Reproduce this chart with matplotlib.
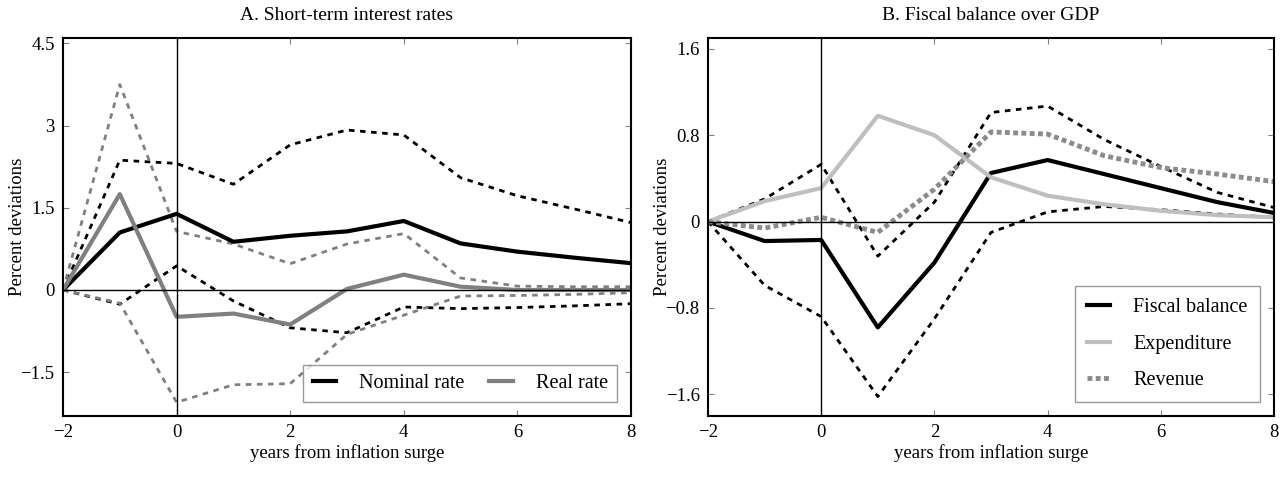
import numpy as np
import matplotlib
matplotlib.use("Agg")
import matplotlib.pyplot as plt

plt.rcParams["font.family"] = ["Liberation Serif", "DejaVu Serif"]
plt.rcParams["font.size"] = 13.5

years = [-2, -1, 0, 1, 2, 3, 4, 5, 6, 7, 8]

# Panel A: short-term interest rates
nominal = [0, 1.05, 1.39, 0.88, 0.99, 1.07, 1.26, 0.85, 0.70, 0.59, 0.49]
nominal_hi = [0, 2.37, 2.31, 1.93, 2.65, 2.92, 2.83, 2.05, 1.72, 1.48, 1.23]
nominal_lo = [0, -0.26, 0.44, -0.20, -0.69, -0.78, -0.31, -0.34, -0.32, -0.29, -0.25]
real = [0, 1.75, -0.49, -0.43, -0.63, 0.02, 0.28, 0.06, 0.0, 0.0, 0.0]
real_hi = [0, 3.75, 1.07, 0.84, 0.48, 0.84, 1.03, 0.22, 0.07, 0.06, 0.06]
real_lo = [0, -0.24, -2.05, -1.73, -1.71, -0.81, -0.46, -0.11, -0.10, -0.08, -0.05]

# Panel B: fiscal balance over GDP
balance = [0, -0.18, -0.17, -0.98, -0.38, 0.45, 0.57, 0.44, 0.31, 0.18, 0.08]
balance_hi = [0, 0.21, 0.53, -0.32, 0.18, 1.01, 1.07, 0.76, 0.51, 0.27, 0.13]
balance_lo = [0, -0.59, -0.88, -1.62, -0.90, -0.10, 0.09, 0.14, 0.11, 0.07, 0.04]
expenditure = [0, 0.19, 0.31, 0.98, 0.80, 0.41, 0.24, 0.16, 0.10, 0.06, 0.04]
revenue = [0, -0.06, 0.04, -0.10, 0.30, 0.83, 0.81, 0.61, 0.50, 0.44, 0.37]

GREY = "#808080"
LIGHT = "#bfbfbf"
REV = "#8c8c8c"

fig = plt.figure(figsize=(12.86, 4.87), dpi=100)
W, H = 1286, 487
axA = fig.add_axes([63 / W, 1 - 416 / H, (631 - 63) / W, (416 - 38) / H])
axB = fig.add_axes([708 / W, 1 - 416 / H, (1274 - 708) / W, (416 - 38) / H])


def style(ax):
    ax.axhline(0, color="black", lw=1)
    ax.axvline(0, color="black", lw=1)
    ax.tick_params(direction="in", top=True, right=True, length=4,
                   color=GREY, labelsize=13.5, pad=6)
    for s in ax.spines.values():
        s.set_linewidth(1.5)
    ax.set_xlim(-2, 8)
    ax.set_xticks([-2, 0, 2, 4, 6, 8])
    ax.set_xlabel("years from inflation surge", labelpad=2)
    ax.set_ylabel("Percent deviations")
    ax.yaxis.set_label_coords(-0.065, 0.5)


# Panel A
axA.plot(years, nominal_hi, color="black", ls=(0, (2, 2)), lw=2)
axA.plot(years, nominal_lo, color="black", ls=(0, (2, 2)), lw=2)
axA.plot(years, real_hi, color=GREY, ls=(0, (2, 2)), lw=2)
axA.plot(years, real_lo, color=GREY, ls=(0, (2, 2)), lw=2)
axA.plot(years, nominal, color="black", lw=3, label="Nominal rate")
axA.plot(years, real, color=GREY, lw=3, label="Real rate")
style(axA)
axA.set_ylim(-2.3, 4.6)
axA.set_yticks([-1.5, 0, 1.5, 3, 4.5])
axA.set_yticklabels(["\u22121.5", "0", "1.5", "3", "4.5"])
axA.set_title("A. Short-term interest rates", fontsize=14, pad=13)
legA = axA.legend(loc="lower right", ncol=2, fancybox=False, handlelength=1.15,
                  handletextpad=1.15, columnspacing=1.25, borderpad=0.45,
                  borderaxespad=0.7, fontsize=14.5)
legA.get_frame().set_edgecolor(GREY)
legA.get_frame().set_linewidth(1)

# Panel B
axB.plot(years, balance_hi, color="black", ls=(0, (2, 2)), lw=2)
axB.plot(years, balance_lo, color="black", ls=(0, (2, 2)), lw=2)
axB.plot(years, balance, color="black", lw=3, label="Fiscal balance")
axB.plot(years, expenditure, color=LIGHT, lw=3, label="Expenditure")
axB.plot(years, revenue, color=REV, ls=(0, (1, 0.7)), lw=3.5, label="Revenue")
style(axB)
axB.set_ylim(-1.8, 1.7)
axB.set_yticks([-1.6, -0.8, 0, 0.8, 1.6])
axB.set_yticklabels(["\u22121.6", "\u22120.8", "0", "0.8", "1.6"])
axB.set_title("B. Fiscal balance over GDP", fontsize=14, pad=13)
legB = axB.legend(loc="lower right", fancybox=False, handlelength=1.15,
                  handletextpad=1.15, labelspacing=0.85, borderpad=0.6,
                  borderaxespad=0.7, fontsize=14.5)
legB.get_frame().set_edgecolor(GREY)
legB.get_frame().set_linewidth(1)

fig.savefig("out.png", dpi=100)
